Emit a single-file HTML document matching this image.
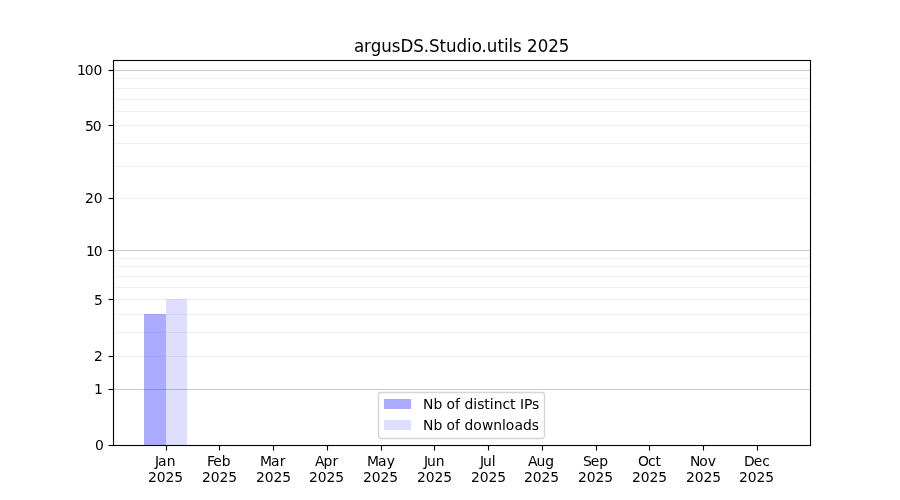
<!DOCTYPE html>
<html lang="en">
<head>
<meta charset="utf-8">
<title>argusDS.Studio.utils 2025</title>
<style>
html,body{margin:0;padding:0;background:#fff;}
body{width:900px;height:500px;overflow:hidden;}
svg{display:block;}
text{font-family:"DejaVu Sans","Liberation Sans",sans-serif;fill:#000;text-rendering:auto;}
.t10{font-size:13.889px;}
.t12{font-size:16.667px;}
.crisp{shape-rendering:crispEdges;}
</style>
</head>
<body>
<svg width="900" height="500" viewBox="0 0 900 500">
<rect x="0" y="0" width="900" height="500" fill="#ffffff"/>
<g class="crisp">
</g><g>
<rect x="113" y="355.9445" width="697" height="1.111" fill="#f0f0f0"/>
<rect x="113" y="331.9445" width="697" height="1.111" fill="#f0f0f0"/>
<rect x="113" y="313.9445" width="697" height="1.111" fill="#f0f0f0"/>
<rect x="113" y="298.9445" width="697" height="1.111" fill="#f0f0f0"/>
<rect x="113" y="286.9445" width="697" height="1.111" fill="#f0f0f0"/>
<rect x="113" y="275.9445" width="697" height="1.111" fill="#f0f0f0"/>
<rect x="113" y="265.9445" width="697" height="1.111" fill="#f0f0f0"/>
<rect x="113" y="257.9445" width="697" height="1.111" fill="#f0f0f0"/>
<rect x="113" y="197.9445" width="697" height="1.111" fill="#f0f0f0"/>
<rect x="113" y="165.9445" width="697" height="1.111" fill="#f0f0f0"/>
<rect x="113" y="142.9445" width="697" height="1.111" fill="#f0f0f0"/>
<rect x="113" y="124.9445" width="697" height="1.111" fill="#f0f0f0"/>
<rect x="113" y="110.9445" width="697" height="1.111" fill="#f0f0f0"/>
<rect x="113" y="98.9445" width="697" height="1.111" fill="#f0f0f0"/>
<rect x="113" y="87.9445" width="697" height="1.111" fill="#f0f0f0"/>
<rect x="113" y="77.9445" width="697" height="1.111" fill="#f0f0f0"/>
<rect x="113" y="388.9445" width="697" height="1.111" fill="#cccccc"/>
<rect x="113" y="249.9445" width="697" height="1.111" fill="#cccccc"/>
<rect x="113" y="69.9445" width="697" height="1.111" fill="#cccccc"/>
</g><g class="crisp">
<rect x="144" y="314" width="22" height="131" fill="#0000ff" fill-opacity="0.33"/>
<rect x="166" y="299" width="21" height="146" fill="#0000ff" fill-opacity="0.13"/>
</g>
<g fill="#000"><rect x="112.9445" y="59.9445" width="1.111" height="386.111"/><rect x="809.9445" y="59.9445" width="1.111" height="386.111"/><rect x="112.9445" y="444.9445" width="698.111" height="1.111"/><rect x="112.9445" y="59.9445" width="698.111" height="1.111"/></g>
<g fill="#000">
<rect x="165.9445" y="445.5" width="1.111" height="5"/>
<rect x="218.9445" y="445.5" width="1.111" height="5"/>
<rect x="272.9445" y="445.5" width="1.111" height="5"/>
<rect x="326.9445" y="445.5" width="1.111" height="5"/>
<rect x="380.9445" y="445.5" width="1.111" height="5"/>
<rect x="433.9445" y="445.5" width="1.111" height="5"/>
<rect x="487.9445" y="445.5" width="1.111" height="5"/>
<rect x="541.9445" y="445.5" width="1.111" height="5"/>
<rect x="595.9445" y="445.5" width="1.111" height="5"/>
<rect x="648.9445" y="445.5" width="1.111" height="5"/>
<rect x="702.9445" y="445.5" width="1.111" height="5"/>
<rect x="756.9445" y="445.5" width="1.111" height="5"/>
<rect x="108.5" y="444.9445" width="5" height="1.111"/>
<rect x="108.5" y="388.9445" width="5" height="1.111"/>
<rect x="108.5" y="355.9445" width="5" height="1.111"/>
<rect x="108.5" y="298.9445" width="5" height="1.111"/>
<rect x="108.5" y="249.9445" width="5" height="1.111"/>
<rect x="108.5" y="197.9445" width="5" height="1.111"/>
<rect x="108.5" y="124.9445" width="5" height="1.111"/>
<rect x="108.5" y="69.9445" width="5" height="1.111"/>
</g>
<rect x="378.5" y="392.5" width="166" height="46" rx="2.78" ry="2.78" fill="#ffffff" fill-opacity="0.8" stroke="#cccccc" stroke-opacity="0.8" stroke-width="1.389"/>
<g class="crisp"><rect x="384" y="399" width="27" height="10" fill="#0000ff" fill-opacity="0.33"/><rect x="384" y="420" width="27" height="10" fill="#0000ff" fill-opacity="0.13"/></g>
<text class="t12" transform="translate(0 52) scale(1 1.07)" x="354.00 364.12 370.75 381.25 391.75 400.50 413.38 423.88 429.12 439.62 446.12 456.62 467.12 471.75 481.62 486.88 497.38 503.88 508.50 513.12 521.44 527.12 537.75 548.25 558.88" y="0">argusDS.Studio.utils 2025</text>
<text class="t10" transform="translate(0 466) scale(1 1.02)" x="155.12 158.12 166.75" y="0">Jan</text>
<text class="t10" transform="translate(0 482) scale(1 1.02)" x="148.00 156.75 165.50 174.25" y="0">2025</text>
<text class="t10" transform="translate(0 466) scale(1 1.02)" x="207.00 213.25 221.75" y="0">Feb</text>
<text class="t10" transform="translate(0 482) scale(1 1.02)" x="202.00 210.75 219.50 228.25" y="0">2025</text>
<text class="t10" transform="translate(0 466) scale(1 1.02)" x="260.12 271.12 279.75" y="0">Mar</text>
<text class="t10" transform="translate(0 482) scale(1 1.02)" x="256.00 264.75 273.50 282.25" y="0">2025</text>
<text class="t10" transform="translate(0 466) scale(1 1.02)" x="315.00 323.50 332.38" y="0">Apr</text>
<text class="t10" transform="translate(0 482) scale(1 1.02)" x="309.00 317.75 326.50 335.25" y="0">2025</text>
<text class="t10" transform="translate(0 466) scale(1 1.02)" x="367.12 378.12 386.75" y="0">May</text>
<text class="t10" transform="translate(0 482) scale(1 1.02)" x="363.00 371.75 380.50 389.25" y="0">2025</text>
<text class="t10" transform="translate(0 466) scale(1 1.02)" x="424.00 427.00 435.75" y="0">Jun</text>
<text class="t10" transform="translate(0 482) scale(1 1.02)" x="417.00 425.75 434.50 443.25" y="0">2025</text>
<text class="t10" transform="translate(0 466) scale(1 1.02)" x="480.00 483.00 491.75" y="0">Jul</text>
<text class="t10" transform="translate(0 482) scale(1 1.02)" x="471.00 479.75 488.50 497.25" y="0">2025</text>
<text class="t10" transform="translate(0 466) scale(1 1.02)" x="528.00 536.50 545.25" y="0">Aug</text>
<text class="t10" transform="translate(0 482) scale(1 1.02)" x="524.00 532.75 541.50 550.25" y="0">2025</text>
<text class="t10" transform="translate(0 466) scale(1 1.02)" x="583.00 590.75 599.25" y="0">Sep</text>
<text class="t10" transform="translate(0 482) scale(1 1.02)" x="578.00 586.75 595.50 604.25" y="0">2025</text>
<text class="t10" transform="translate(0 466) scale(1 1.02)" x="638.00 647.88 655.50" y="0">Oct</text>
<text class="t10" transform="translate(0 482) scale(1 1.02)" x="632.00 640.75 649.50 658.25" y="0">2025</text>
<text class="t10" transform="translate(0 466) scale(1 1.02)" x="689.88 699.25 707.75" y="0">Nov</text>
<text class="t10" transform="translate(0 482) scale(1 1.02)" x="686.00 694.75 703.50 712.25" y="0">2025</text>
<text class="t10" transform="translate(0 466) scale(1 1.02)" x="744.00 753.75 762.25" y="0">Dec</text>
<text class="t10" transform="translate(0 482) scale(1 1.02)" x="739.00 747.75 756.50 765.25" y="0">2025</text>
<text class="t10" transform="translate(0 450) scale(1 1.02)" x="95.00" y="0">0</text>
<text class="t10" transform="translate(0 394) scale(1 1.02)" x="94.00" y="0">1</text>
<text class="t10" transform="translate(0 361) scale(1 1.02)" x="94.00" y="0">2</text>
<text class="t10" transform="translate(0 305) scale(1 1.02)" x="94.00" y="0">5</text>
<text class="t10" transform="translate(0 256) scale(1 1.02)" x="86.00 93.88" y="0">10</text>
<text class="t10" transform="translate(0 203) scale(1 1.02)" x="85.00 93.75" y="0">20</text>
<text class="t10" transform="translate(0 131) scale(1 1.02)" x="85.00 92.75" y="0">50</text>
<text class="t10" transform="translate(0 75) scale(1 1.02)" x="77.00 84.88 93.62" y="0">100</text>
<text class="t10" transform="translate(0 409) scale(1 1.02)" x="423.00 433.38 442.15 446.62 455.12 460.02 464.50 473.38 477.25 484.38 489.88 493.75 502.50 510.12 515.52 520.00 524.00 532.12" y="0">Nb of distinct IPs</text>
<text class="t10" transform="translate(0 430) scale(1 1.02)" x="423.00 433.38 442.15 446.62 455.12 460.02 464.50 473.38 481.88 493.25 502.00 505.88 514.38 523.00 531.88" y="0">Nb of downloads</text>
</svg>
</body>
</html>
